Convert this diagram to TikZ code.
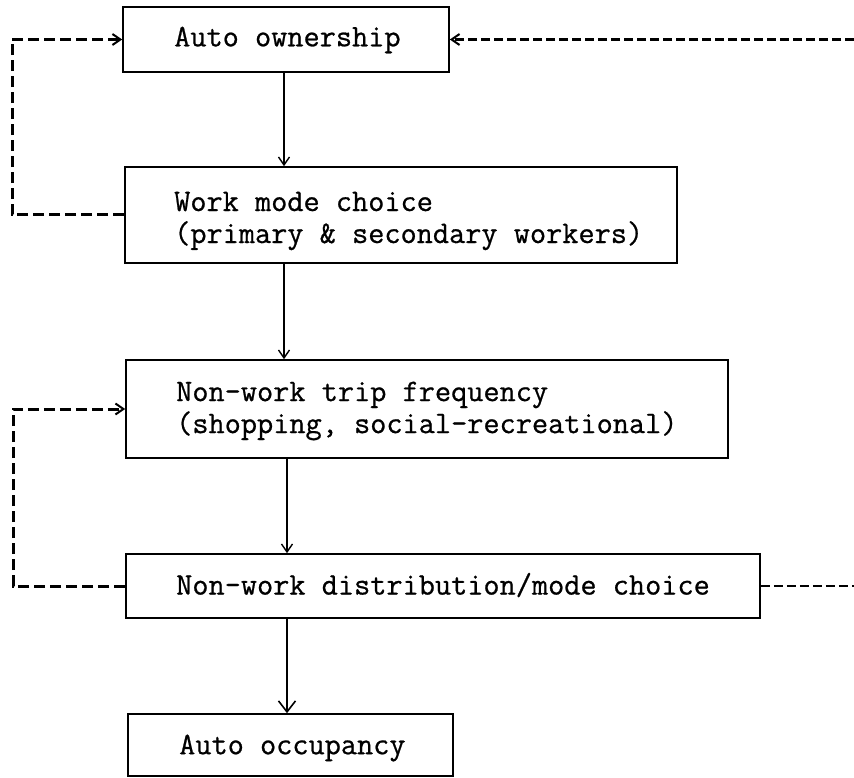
\documentclass[tikz,border=0pt]{standalone}
\usepackage{fontspec}
\setmonofont[FakeBold=0.7]{Latin Modern Mono}
\usetikzlibrary{arrows.meta}

\begin{document}
\begin{tikzpicture}[x=1pt, y=-1pt,
  stagebox/.style={draw, line width=1.6pt, inner sep=0pt},
  label text/.style={anchor=west, inner sep=0pt, align=left,
    font=\ttfamily\fontsize{31.4}{32}\selectfont},
  flow/.style={line width=1.4pt, -{Straight Barb[length=8pt, width=11pt, line width=1.4pt]}},
  flowbig/.style={line width=1.6pt, -{Straight Barb[length=11pt, width=17pt, line width=1.6pt]}},
  feedback/.style={line width=3pt, dash pattern=on 11pt off 5pt},
  feedbackthin/.style={line width=2.4pt, dash pattern=on 9pt off 4pt},
  fbtip/.style={-{Straight Barb[length=8pt, width=11pt, line width=2pt]}}
]
\useasboundingbox (0,0) rectangle (854,778);

% stage boxes
\node[stagebox, minimum width=326pt, minimum height=65pt] (b1) at (286,39.5) {};
\node[stagebox, minimum width=552pt, minimum height=96pt] (b2) at (401,215) {};
\node[stagebox, minimum width=602pt, minimum height=98pt] (b3) at (427,409) {};
\node[stagebox, minimum width=634pt, minimum height=64pt] (b4) at (443,586) {};
\node[stagebox, minimum width=325pt, minimum height=62pt] (b5) at (290.5,745) {};

% box captions
\node[label text] (t1) at (174,40) {Auto ownership};
\node[label text] (t2) at (174,221) {Work mode choice\\(primary \& secondary workers)};
\node[label text] (t3) at (176,411) {Non-work trip frequency\\(shopping, social-recreational)};
\node[label text] (t4) at (176,585) {Non-work distribution/mode choice};
\node[label text] (t5) at (179,748) {Auto occupancy};

% guide coordinates for the connectors
\coordinate (ax1) at (284,0);
\coordinate (ax2) at (287,0);
\coordinate (lx1) at (12,0);
\coordinate (lx2) at (13,0);
\coordinate (r1) at (854,39.5);
\coordinate (r2) at (854,586);

% main sequence
\draw[flow] (b1.south -| ax1) -- (b2.north -| ax1);
\draw[flow] (b2.south -| ax1) -- (b3.north -| ax1);
\draw[flow] (b3.south -| ax2) -- (b4.north -| ax2);
\draw[flowbig] (b4.south -| ax2) -- (b5.north -| ax2);

% feedback loops
\draw[feedback, fbtip] (b2.west) -- (b2.west -| lx1) |- (b1.west);
\draw[feedbackthin, fbtip] (r1) -- (b1.east);
\draw[feedback, fbtip] (b4.west) -- (b4.west -| lx2) |- (b3.west);
\draw[feedbackthin] (b4.east) -- (r2);
\end{tikzpicture}
\end{document}
